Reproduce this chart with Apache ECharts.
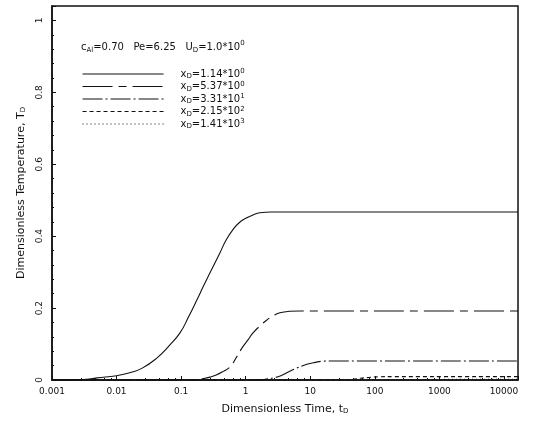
<!DOCTYPE html>
<html>
<head>
<meta charset="utf-8">
<script src="https://cdn.jsdelivr.net/npm/echarts@6/dist/echarts.min.js"></script>
<style>html,body{margin:0;padding:0;background:#fff}#c{width:551px;height:427px}</style>
</head>
<body>
<div id="c"></div>
<script>
var xTicks = [0.001, 0.01, 0.1, 1, 10, 100, 1000, 10000];
var yTicks = [0, 0.2, 0.4, 0.6, 0.8, 1];
var xMax = 16500;
var seriesNames = ['x1', 'x2', 'x3', 'x4', 'x5'];
var legendLabels = [
  'x{sub|D}=1.14*10{sup|0}',
  'x{sub|D}=5.37*10{sup|0}',
  'x{sub|D}=3.31*10{sup|1}',
  'x{sub|D}=2.15*10{sup|2}',
  'x{sub|D}=1.41*10{sup|3}'
];
var s1 = [[0.001,0],[0.003,0.001],[0.005,0.006],[0.01,0.012],[0.016,0.02],[0.025,0.033],[0.042,0.061],[0.065,0.095],[0.096,0.131],[0.13,0.175],[0.176,0.223],[0.22,0.26],[0.28,0.298],[0.4,0.354],[0.5,0.39],[0.634,0.418],[0.8,0.438],[1.04,0.451],[1.3,0.459],[1.66,0.465],[2.5,0.467],[16500,0.467]];
var s2 = [[0.001,0],[0.11,0],[0.16,0.001],[0.22,0.004],[0.28,0.008],[0.35,0.014],[0.45,0.024],[0.57,0.036],[0.7,0.06],[0.9,0.092],[1.1,0.113],[1.3,0.131],[1.7,0.152],[2.13,0.167],[2.7,0.179],[3.4,0.187],[4.8,0.191],[7,0.192],[16500,0.192]];
var s3 = [[0.001,0],[1.5,0],[2,0.002],[2.7,0.006],[3.5,0.012],[4.8,0.024],[6,0.032],[7.5,0.039],[9.5,0.045],[12,0.049],[15,0.052],[22,0.053],[16500,0.053]];
var s4 = [[0.001,0],[30,0],[45,0.002],[60,0.005],[80,0.007],[120,0.009],[200,0.0095],[16500,0.0095]];
var s5 = [[0.001,0],[300,0],[600,0.001],[1000,0.0015],[3000,0.002],[16500,0.002]];
var allData = [s1, s2, s3, s4, s5];
var dashTypes = ['solid', [30,6,8,6], [20,3,2,3], [4,3], [1,3]];

var FONT = 'DejaVu Sans';
var rich = {
  sub: {fontSize: 7, fontFamily: FONT, color: '#111', verticalAlign: 'bottom', lineHeight: 6},
  sup: {fontSize: 7, fontFamily: FONT, color: '#111', verticalAlign: 'top', lineHeight: 6}
};

var chart = echarts.init(document.getElementById('c'));
var series = allData.map(function (d, i) {
  return {
    name: seriesNames[i],
    type: 'line',
    data: d,
    showSymbol: false,
    symbol: 'none',
    smooth: 0.5,
    lineStyle: {color: '#111', width: 1.1, type: dashTypes[i]},
    itemStyle: {color: '#111'},
    animation: false
  };
});

chart.setOption({
  animation: false,
  backgroundColor: '#fff',
  title: {
    text: 'c{sub|Al}=0.70   Pe=6.25   U{sub|D}=1.0*10{sup|0}',
    left: 76, top: 35,
    textStyle: {fontSize: 10, fontWeight: 'normal', fontFamily: FONT, color: '#111', lineHeight: 14, rich: rich}
  },
  legend: {
    show: true,
    orient: 'vertical',
    left: 77, top: 63,
    itemWidth: 81, itemHeight: 10, itemGap: 0.5,
    data: seriesNames,
    itemStyle: {opacity: 0},
    lineStyle: {width: 1.1},
    formatter: function (name) { return legendLabels[seriesNames.indexOf(name)]; },
    textStyle: {fontSize: 10, fontFamily: FONT, color: '#111', lineHeight: 12, padding: [0, 0, 0, 12], rich: rich},
    selectedMode: false
  },
  grid: {left: 52, right: 33, top: 6, bottom: 47, show: true, borderColor: '#111', borderWidth: 1.5},
  xAxis: {
    type: 'log', logBase: 10, min: 0.001, max: xMax,
    name: 'Dimensionless Time, t{sub|D}',
    nameLocation: 'middle', nameGap: 24,
    nameTextStyle: {fontSize: 11, fontFamily: FONT, color: '#111', rich: rich},
    axisLine: {lineStyle: {color: '#111', width: 1.5}},
    axisTick: {inside: true, length: 4, lineStyle: {color: '#111'}},
    minorTick: {show: true, splitNumber: 5, length: 2, lineStyle: {color: '#111'}},
    splitLine: {show: false},
    axisLabel: {fontSize: 9, fontFamily: FONT, color: '#111', margin: 7, showMaxLabel: false,
      formatter: function (v) {
        for (var i = 0; i < xTicks.length; i++) { if (Math.abs(v / xTicks[i] - 1) < 1e-6) return String(xTicks[i]); }
        return '';
      }}
  },
  yAxis: {
    type: 'value', min: 0, max: 1.04, interval: 0.2,
    name: 'Dimensionless Temperature, T{sub|D}',
    nameLocation: 'middle', nameGap: 25,
    nameTextStyle: {fontSize: 11, fontFamily: FONT, color: '#111', rich: rich},
    axisLine: {lineStyle: {color: '#111', width: 1.5}},
    axisTick: {inside: true, length: 4, lineStyle: {color: '#111'}},
    minorTick: {show: true, splitNumber: 5, length: 2, lineStyle: {color: '#111'}},
    splitLine: {show: false},
    axisLabel: {fontSize: 9, fontFamily: FONT, color: '#111', rotate: 90, margin: 8, showMaxLabel: false,
      formatter: function (v) {
        for (var i = 0; i < yTicks.length; i++) { if (Math.abs(v - yTicks[i]) < 1e-6) return String(yTicks[i]); }
        return '';
      }}
  },
  series: series
});
</script>
</body>
</html>
